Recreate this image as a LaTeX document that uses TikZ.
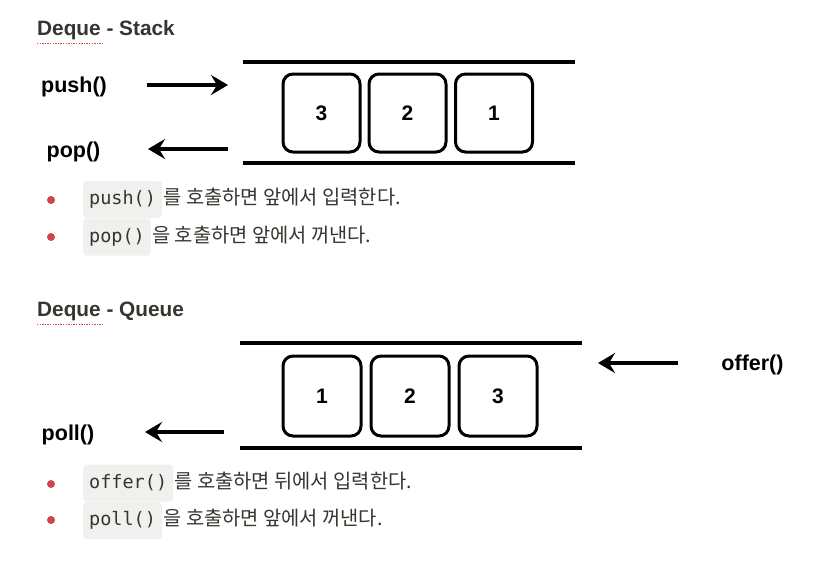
\documentclass[tikz,border=0pt]{standalone}
\usepackage{fontspec}
\setmainfont{Liberation Sans}
\newfontfamily\krfont{Noto Sans CJK KR}
\newfontfamily\codefont{DejaVu Sans Mono}
\usetikzlibrary{arrows.meta,calc}
\definecolor{ink}{HTML}{37352F}
\definecolor{codebg}{HTML}{F0F1EF}
\definecolor{dotred}{HTML}{D0454C}
\begin{document}
\begin{tikzpicture}[x=1pt,y=-1pt,
  heading/.style={font=\fontsize{20.8}{24}\selectfont\bfseries, text=ink, inner sep=0, anchor=west},
  opname/.style={font=\fontsize{21.5}{24}\selectfont\bfseries, inner sep=0},
  cell/.style={draw, line width=3pt, rounded corners=10pt, minimum width=77pt, minimum height=78pt, font=\fontsize{21}{23}\selectfont\bfseries, inner sep=0},
  rail/.style={line width=4pt},
  bigarrow/.style={line width=4pt, -{Stealth[length=17pt,width=20pt,inset=6pt]}},
  codebox/.style={fill=codebg, rounded corners=4pt, font=\codefont\fontsize{18.5}{20}\selectfont, text=ink, inner xsep=6pt, inner ysep=0pt, minimum height=37pt, anchor=west},
  krtext/.style={font=\krfont\fontsize{19.8}{22}\selectfont, text=ink, inner sep=0, anchor=base west},
  bulletdot/.style={circle, fill=dotred, minimum size=8pt, inner sep=0},
  squiggle/.style={dotred, line width=1.6pt, dash pattern=on 1.4pt off 1.2pt}
]
\useasboundingbox[fill=white] (0,0) rectangle (816,563);

% ---------- Deque - Stack ----------
\node[heading] (h1) at (37,30) {Deque - Stack};
\draw[squiggle] (37,43.5) -- (103,43.5);

\draw[rail] (243,62) -- (575,62);
\draw[rail] (243,163) -- (575,163);
\node[cell] (s3) at (321.5,113) {3};
\node[cell] (s2) at (407.5,113) {2};
\node[cell] (s1) at (494,113) {1};

\node[opname] (push) at (74,87) {push()};
\node[opname] (pop) at (73.5,152) {pop()};
\coordinate (pushA) at (147,85);
\coordinate (pushB) at (228,85);
\coordinate (popA) at (228,149);
\coordinate (popB) at (148,149);
\draw[bigarrow] (pushA) -- (pushB);
\draw[bigarrow] (popA) -- (popB);

\node[bulletdot] (b1) at (51,200) {};
\node[bulletdot] (b2) at (51,237) {};
\node[codebox] (c1) at (83,199.5) {push()};
\node[krtext] (t1) at ($(c1.base east)+(1,0)$) {를 호출하면 앞에서 입력한다.};
\node[codebox] (c2) at (83,237) {pop()};
\node[krtext] (t2) at ($(c2.base east)+(1,0)$) {을 호출하면 앞에서 꺼낸다.};

% ---------- Deque - Queue ----------
\node[heading] (h2) at (37,311) {Deque - Queue};
\draw[squiggle] (37,324.5) -- (103,324.5);

\draw[rail] (240,343) -- (582,343);
\draw[rail] (240,448) -- (582,448);
\node[cell, minimum width=78pt, minimum height=80pt] (q1) at (322,396) {1};
\node[cell, minimum width=78pt, minimum height=80pt] (q2) at (410,396) {2};
\node[cell, minimum width=78pt, minimum height=80pt] (q3) at (498,396) {3};

\node[opname] (offer) at (752.5,365) {offer()};
\node[opname] (poll) at (68,435) {poll()};
\coordinate (offA) at (678,363);
\coordinate (offB) at (598,363);
\coordinate (pollA) at (224,432);
\coordinate (pollB) at (145,432);
\draw[bigarrow] (offA) -- (offB);
\draw[bigarrow] (pollA) -- (pollB);

\node[bulletdot] (b3) at (51,484) {};
\node[bulletdot] (b4) at (51,520) {};
\node[codebox] (c3) at (83,483) {offer()};
\node[krtext] (t3) at ($(c3.base east)+(1,0)$) {를 호출하면 뒤에서 입력한다.};
\node[codebox] (c4) at (83,520.5) {poll()};
\node[krtext] (t4) at ($(c4.base east)+(1,0)$) {을 호출하면 앞에서 꺼낸다.};
\end{tikzpicture}
\end{document}
